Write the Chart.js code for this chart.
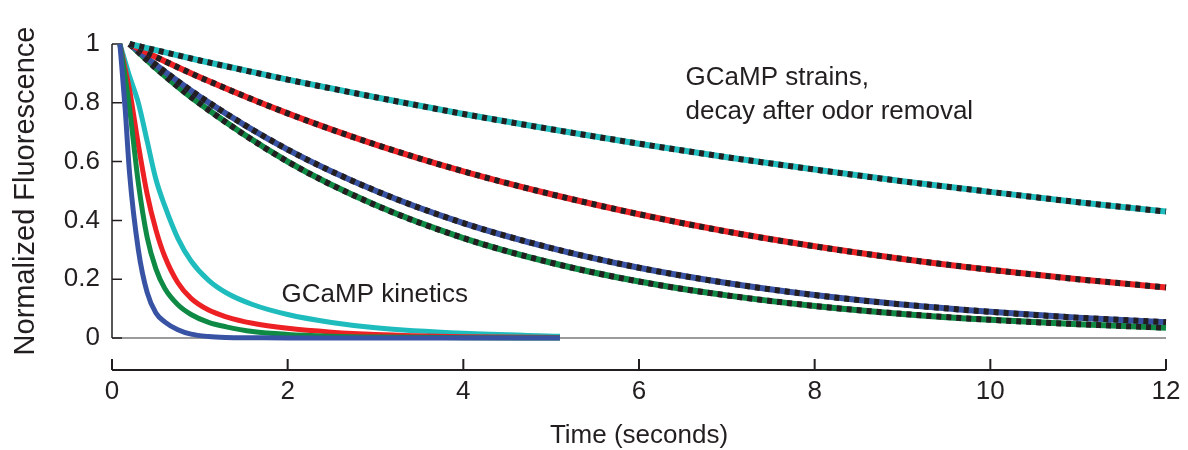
<!DOCTYPE html>
<html>
<head>
<meta charset="utf-8">
<script src="https://cdn.jsdelivr.net/npm/chart.js@4.4.1/dist/chart.umd.min.js"></script>
<style>
  html, body { margin: 0; padding: 0; background: #fff; }
</style>
</head>
<body>
<canvas id="chart" width="1188" height="450"></canvas>
<script>
// GCaMP kinetics (solid curves), time in seconds
const kineticsTime = [0.09, 0.15, 0.2, 0.3, 0.4, 0.5, 0.6, 0.75, 0.9, 1.1, 1.3, 1.6, 2, 2.5, 3, 4, 5.1];
const kinBlue  = [1, 0.78, 0.56, 0.30, 0.155, 0.085, 0.055, 0.028, 0.013, 0.005, 0.002, 0.001, 0, 0, 0, 0, 0];
const kinGreen = [1, 0.887, 0.78, 0.527, 0.343, 0.235, 0.169, 0.113, 0.080, 0.053, 0.038, 0.022, 0.012, 0.006, 0.003, 0.001, 0];
const kinRed   = [1, 0.914, 0.844, 0.657, 0.49, 0.368, 0.278, 0.188, 0.135, 0.095, 0.072, 0.050, 0.033, 0.020, 0.012, 0.0045, 0.0015];
const kinCyan  = [1, 0.94, 0.89, 0.80, 0.67, 0.54, 0.45, 0.339, 0.262, 0.196, 0.154, 0.114, 0.080, 0.053, 0.035, 0.016, 0.006];

// GCaMP strains, decay after odor removal (dotted curves)
const strainTime = [0.2, 0.5, 1, 2, 3, 4, 5, 6, 7, 8, 9, 10, 11, 12];
const strainCyan  = [1, 0.979, 0.944, 0.879, 0.819, 0.762, 0.710, 0.661, 0.615, 0.573, 0.533, 0.497, 0.462, 0.430];
const strainRed   = [1, 0.956, 0.887, 0.764, 0.658, 0.567, 0.489, 0.421, 0.362, 0.312, 0.269, 0.232, 0.200, 0.172];
const strainBlue  = [1, 0.929, 0.821, 0.641, 0.501, 0.391, 0.306, 0.239, 0.187, 0.146, 0.114, 0.089, 0.069, 0.054];
const strainGreen = [1, 0.918, 0.797, 0.600, 0.452, 0.340, 0.256, 0.192, 0.145, 0.109, 0.082, 0.062, 0.047, 0.035];

const xTicks = [0, 2, 4, 6, 8, 10, 12];
const yTicks = [0, 0.2, 0.4, 0.6, 0.8, 1];

const BLUE = '#3953a4', GREEN = '#0f8a45', RED = '#ed2024', CYAN = '#1ebcbd', INK = '#231f20';
const FONT = '"Liberation Sans", Arial, sans-serif';

const pts = (t, v) => t.map((x, i) => ({ x: x, y: v[i] }));

function solid(data, color, width) {
    return { data: data, borderColor: color, borderWidth: width || 5, pointRadius: 0,
             cubicInterpolationMode: 'monotone', clip: false };
}
function dashes(data) {
    return { data: data, borderColor: INK, borderWidth: 6, borderDash: [5, 5], pointRadius: 0,
             cubicInterpolationMode: 'monotone', clip: false };
}

// first dataset ends up on top, so each dash layer goes before its colour line
const datasets = [];
[[strainCyan, CYAN], [strainRed, RED], [strainBlue, BLUE], [strainGreen, GREEN]].forEach(([v, c]) => {
    const d = pts(strainTime, v);
    datasets.push(dashes(d));
    datasets.push(solid(d, c, 6));
});
datasets.push(solid(pts(kineticsTime, kinBlue), BLUE));
datasets.push(solid(pts(kineticsTime, kinGreen), GREEN));
datasets.push(solid(pts(kineticsTime, kinRed), RED));
datasets.push(solid(pts(kineticsTime, kinCyan), CYAN));

const paperAxes = {
    id: 'paperAxes',
    beforeDatasetsDraw(chart) {
        const { ctx, chartArea, scales: { x, y } } = chart;
        const left = chartArea.left;
        const y0 = y.getPixelForValue(0), y1 = y.getPixelForValue(1);
        const xAxisY = y0 + 32;
        ctx.save();
        // grey zero line
        ctx.strokeStyle = '#7a7a7a';
        ctx.lineWidth = 1.5;
        ctx.beginPath();
        ctx.moveTo(left, y0);
        ctx.lineTo(x.getPixelForValue(12), y0);
        ctx.stroke();
        // y axis with inward ticks
        ctx.strokeStyle = INK;
        ctx.lineWidth = 1.5;
        ctx.beginPath();
        ctx.moveTo(left, y1);
        ctx.lineTo(left, y0);
        yTicks.forEach(v => {
            const py = y.getPixelForValue(v);
            ctx.moveTo(left, py);
            ctx.lineTo(left + 10, py);
        });
        ctx.stroke();
        // detached x axis with upward ticks
        ctx.lineWidth = 2;
        ctx.beginPath();
        ctx.moveTo(x.getPixelForValue(0), xAxisY);
        ctx.lineTo(x.getPixelForValue(12), xAxisY);
        xTicks.forEach(v => {
            const px = x.getPixelForValue(v);
            ctx.moveTo(px, xAxisY);
            ctx.lineTo(px, xAxisY - 11);
        });
        ctx.stroke();
        ctx.restore();
    },
    afterDraw(chart) {
        const { ctx, scales: { x, y } } = chart;
        ctx.save();
        ctx.fillStyle = INK;
        ctx.font = '26px ' + FONT;
        ctx.textBaseline = 'middle';
        ctx.textAlign = 'left';
        ctx.fillText('GCaMP kinetics', x.getPixelForValue(1.93), y.getPixelForValue(0.147));
        ctx.fillText('GCaMP strains,', x.getPixelForValue(6.53), y.getPixelForValue(0.885));
        ctx.fillText('decay after odor removal', x.getPixelForValue(6.53), y.getPixelForValue(0.77));
        ctx.restore();
    }
};

new Chart(document.getElementById('chart').getContext('2d'), {
    type: 'line',
    data: { datasets: datasets },
    plugins: [paperAxes],
    options: {
        responsive: false,
        animation: false,
        layout: { padding: { top: 44, right: 0, left: 0, bottom: 0 } },
        plugins: { legend: { display: false }, tooltip: { enabled: false } },
        scales: {
            x: {
                type: 'linear', min: 0, max: 12,
                afterFit: s => { s.height = 112; s.paddingLeft = 0; s.paddingRight = 22; },
                afterBuildTicks: s => { s.ticks = xTicks.map(v => ({ value: v })); },
                grid: { display: false, drawTicks: false },
                border: { display: false },
                ticks: { color: INK, font: { family: FONT, size: 26 }, padding: 38, maxRotation: 0 },
                title: { display: true, text: 'Time (seconds)', color: INK,
                         font: { family: FONT, size: 26, lineHeight: 1 }, padding: { top: 0, bottom: 1 } }
            },
            y: {
                type: 'linear', min: 0, max: 1,
                afterFit: s => { s.width = 112; },
                afterBuildTicks: s => { s.ticks = yTicks.map(v => ({ value: v })); },
                grid: { display: false, drawTicks: false },
                border: { display: false },
                ticks: { color: INK, font: { family: FONT, size: 26 }, padding: 12,
                         callback: v => String(v) },
                title: { display: true, text: 'Normalized Fluorescence', color: INK,
                         font: { family: FONT, size: 29, lineHeight: 1 }, padding: { top: 11, bottom: 0 } }
            }
        }
    }
});
</script>
</body>
</html>
